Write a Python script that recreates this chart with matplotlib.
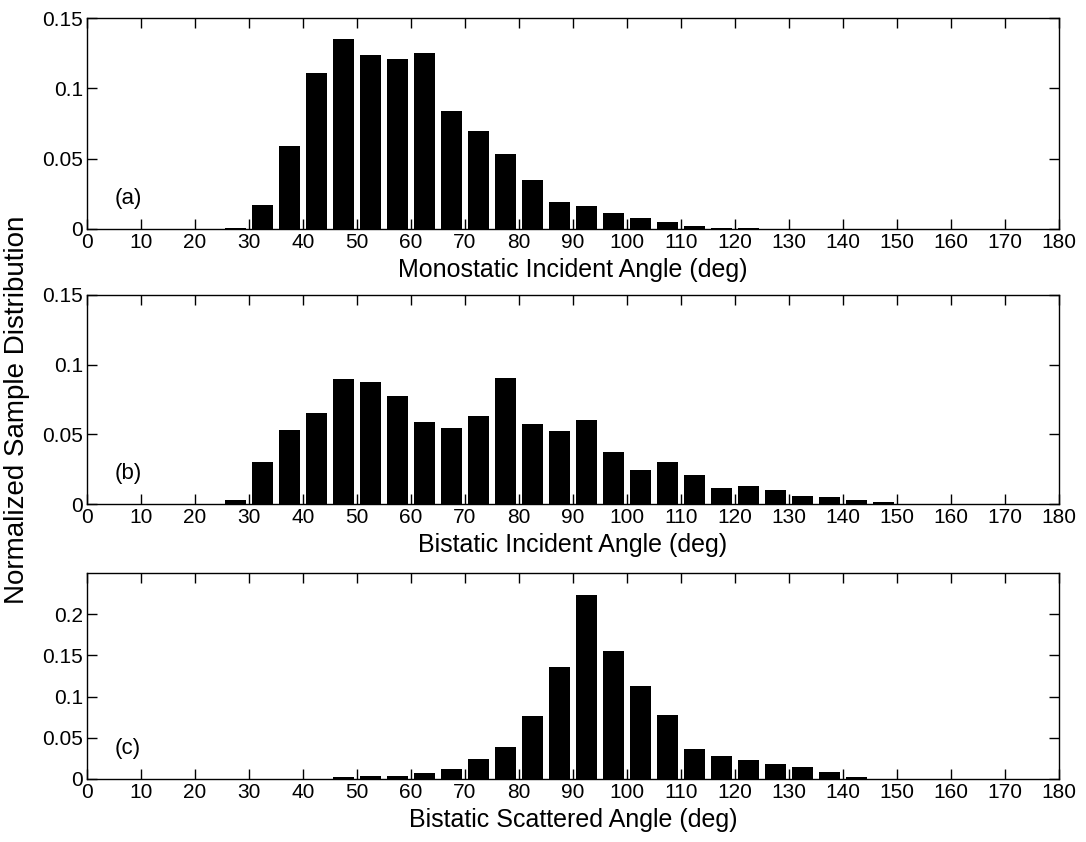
import numpy as np
import matplotlib
matplotlib.use("Agg")
import matplotlib.pyplot as plt

plt.rcParams['font.family'] = ['Liberation Sans', 'DejaVu Sans']

# bin centres (5 deg bins)
centers = np.arange(2.5, 180, 5)

# panel (a): monostatic incident angle
mono_inc = [0, 0, 0, 0, 0, 0.0005, 0.017, 0.059, 0.111, 0.135, 0.124, 0.121,
            0.125, 0.084, 0.070, 0.053, 0.035, 0.019, 0.016, 0.0116, 0.0078,
            0.0047, 0.0024, 0.001, 0.0008, 0.0002, 0.0002, 0.0001, 0, 0, 0,
            0, 0, 0, 0, 0]
# panel (b): bistatic incident angle
bi_inc = [0, 0, 0, 0, 0, 0.003, 0.030, 0.053, 0.0656, 0.090, 0.0876, 0.0775,
          0.0586, 0.0546, 0.063, 0.0905, 0.0577, 0.0526, 0.060, 0.037, 0.0244,
          0.030, 0.0208, 0.0113, 0.0132, 0.0103, 0.0057, 0.0048, 0.0026,
          0.0012, 0.0003, 0, 0, 0, 0, 0]
# panel (c): bistatic scattered angle
bi_sca = [0, 0, 0, 0, 0, 0, 0, 0, 0, 0.0028, 0.004, 0.0032, 0.0069, 0.0117,
          0.0247, 0.0388, 0.076, 0.136, 0.2237, 0.1557, 0.1125, 0.0773, 0.036,
          0.028, 0.0227, 0.0178, 0.015, 0.0081, 0.0028, 0, 0, 0, 0, 0, 0, 0]

series = [mono_inc, bi_inc, bi_sca]
xlabels = ['Monostatic Incident Angle (deg)', 'Bistatic Incident Angle (deg)',
           'Bistatic Scattered Angle (deg)']
tags = ['(a)', '(b)', '(c)']
ylims = [0.15, 0.15, 0.25]
yticks = [[0, 0.05, 0.1, 0.15], [0, 0.05, 0.1, 0.15], [0, 0.05, 0.1, 0.15, 0.2]]
ytlabels = [['0', '0.05', '0.1', '0.15'], ['0', '0.05', '0.1', '0.15'],
            ['0', '0.05', '0.1', '0.15', '0.2']]

W, H = 1086, 842
fig = plt.figure(figsize=(W / 100, H / 100), dpi=100)

# axes boxes in pixels: (top, bottom)
boxes = [(18, 229), (295, 504), (573, 779)]
left, right = 87, 1059

for i in range(3):
    top, bot = boxes[i]
    ax = fig.add_axes([left / W, 1 - bot / H, (right - left) / W, (bot - top) / H])
    ax.bar(centers, series[i], width=4, color='black')
    ax.set_xlim(0, 180)
    ax.set_ylim(0, ylims[i])
    ax.set_xticks(np.arange(0, 181, 10))
    ax.set_yticks(yticks[i])
    ax.set_yticklabels(ytlabels[i])
    ax.tick_params(direction='in', top=True, right=True, length=7,
                   labelsize=15, width=1, pad=3)
    ax.set_xlabel(xlabels[i], fontsize=18, labelpad=4)
    ax.text(0.028, 0.12, tags[i], fontsize=16, transform=ax.transAxes,
            va='baseline')
    for s in ax.spines.values():
        s.set_linewidth(1)

fig.text(4 / W, 1 - 410 / H, 'Normalized Sample Distribution', rotation=90,
         fontsize=20, va='center', ha='left')

fig.savefig('out.png', dpi=100)
